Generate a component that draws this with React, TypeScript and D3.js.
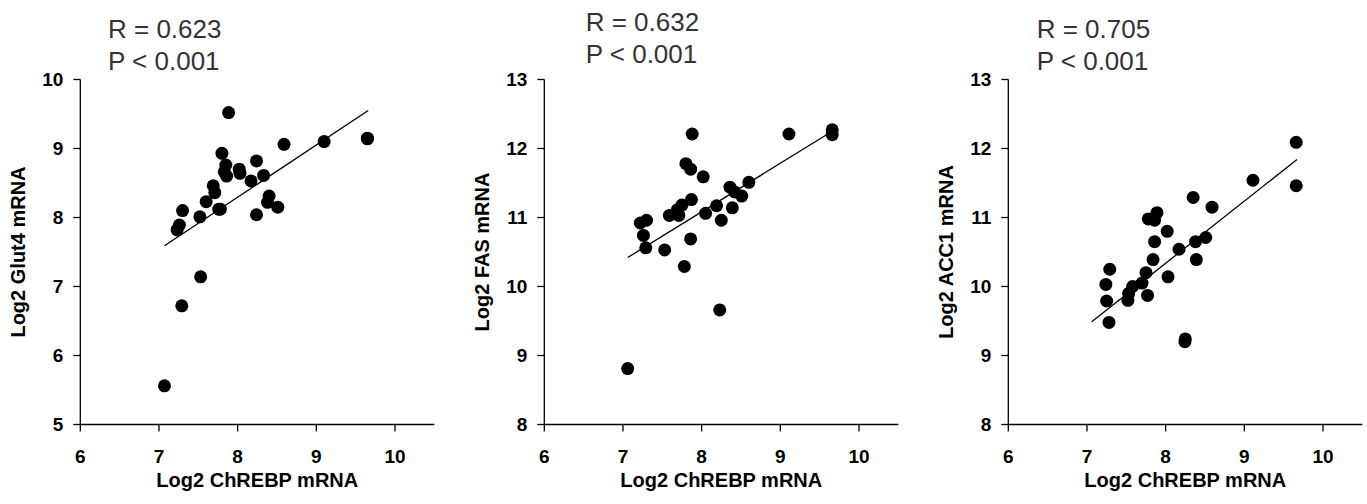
import * as d3 from "d3";

// x values (Log2 ChREBP mRNA) and y values per panel
const glutX = [7.07, 7.29, 7.53, 7.23, 7.26, 7.3, 7.52, 7.6, 7.69, 7.71, 7.76, 7.78, 7.8, 7.85, 7.83, 7.86, 7.885, 8.02, 8.03, 8.17, 8.24, 8.24, 8.33, 8.4, 8.38, 8.51, 8.59, 9.1, 9.65, 9.65];
const glutY = [5.56, 6.72, 7.14, 7.82, 7.89, 8.1, 8.01, 8.23, 8.46, 8.36, 8.12, 8.12, 8.93, 8.76, 8.66, 8.6, 9.52, 8.7, 8.64, 8.53, 8.82, 8.04, 8.61, 8.31, 8.22, 8.15, 9.06, 9.1, 9.15, 9.14];

const fasX = [7.06, 8.23, 7.78, 7.53, 7.29, 7.86, 7.26, 7.22, 7.3, 7.59, 7.71, 7.69, 7.75, 8.05, 8.25, 8.19, 7.87, 8.39, 8.36, 8.42, 8.51, 8.6, 8.02, 7.8, 7.86, 7.88, 9.11, 9.66, 9.66];
const fasY = [8.81, 9.66, 10.29, 10.53, 10.56, 10.69, 10.74, 10.92, 10.96, 11.03, 11.03, 11.11, 11.18, 11.06, 10.96, 11.17, 11.26, 11.14, 11.44, 11.37, 11.31, 11.51, 11.59, 11.78, 11.7, 12.21, 12.21, 12.27, 12.2];

const accX = [8.245, 8.25, 7.28, 7.25, 7.52, 7.77, 7.53, 7.58, 7.7, 7.24, 8.03, 7.75, 7.29, 7.84, 8.39, 8.17, 7.86, 8.38, 8.51, 8.02, 7.78, 7.86, 7.89, 8.59, 8.35, 9.11, 9.66, 9.66];
const accY = [9.2, 9.24, 9.48, 9.79, 9.8, 9.87, 9.9, 10.0, 10.05, 10.03, 10.14, 10.2, 10.25, 10.39, 10.39, 10.54, 10.65, 10.65, 10.71, 10.8, 10.98, 10.96, 11.07, 11.15, 11.29, 11.54, 11.46, 12.09];

// regression line end points [x0, x1], [y0, y1]
const glutFitX = [7.07, 9.66];
const glutFitY = [7.59, 9.55];
const fasFitX = [7.06, 9.66];
const fasFitY = [10.42, 12.25];
const accFitX = [7.06, 9.67];
const accFitY = [9.49, 11.84];

const xTicks = [6, 7, 8, 9, 10];
const glutTicks = [5, 6, 7, 8, 9, 10];
const lipoTicks = [8, 9, 10, 11, 12, 13];

const xTitle = "Log2 ChREBP mRNA";
const yTitles = ["Log2 Glut4 mRNA", "Log2 FAS mRNA", "Log2 ACC1 mRNA"];
const rTexts = ["R = 0.623", "R = 0.632", "R = 0.705"];
const pText = "P < 0.001";

const W = 1367;
const H = 504;
const font = "'Liberation Sans', Arial, sans-serif";

const panels = [
  { xs: glutX, ys: glutY, fx: glutFitX, fy: glutFitY, yDomain: [5, 10], yTicks: glutTicks, left: 80.3, statX: 108, statY: 38 },
  { xs: fasX, ys: fasY, fx: fasFitX, fy: fasFitY, yDomain: [8, 13], yTicks: lipoTicks, left: 544.3, statX: 585.7, statY: 31 },
  { xs: accX, ys: accY, fx: accFitX, fy: accFitY, yDomain: [8, 13], yTicks: lipoTicks, left: 1008.3, statX: 1036.7, statY: 38 },
];

const plotW = 354;
const top = 79.5;
const bottom = 424.5;

function Panel({ p, i }: { p: any; i: number }) {
  const x = d3.scaleLinear().domain([6, 10.5]).range([p.left, p.left + plotW]);
  const y = d3.scaleLinear().domain(p.yDomain).range([bottom, top]);
  const line = d3
    .line<number>()
    .x((d) => x(d))
    .y((_, k) => y(p.fy[k]));
  return (
    <g>
      <text x={p.statX} y={p.statY} fontFamily={font} fontSize={26} fill="#333">
        {rTexts[i]}
      </text>
      <text x={p.statX} y={p.statY + 32} fontFamily={font} fontSize={26} fill="#333">
        {pText}
      </text>
      {/* axes */}
      <line x1={x(6)} x2={x(6)} y1={top} y2={bottom} stroke="#000" strokeWidth={1.3} />
      <line x1={x(6)} x2={x(10.5)} y1={bottom} y2={bottom} stroke="#000" strokeWidth={1.3} />
      {p.yTicks.map((t: number) => (
        <g key={"y" + t}>
          <line x1={x(6) - 7} x2={x(6)} y1={y(t)} y2={y(t)} stroke="#000" strokeWidth={1.3} />
          <text x={x(6) - 17} y={y(t) + 6.5} textAnchor="end" fontFamily={font} fontWeight="bold" fontSize={19} fill="#000">
            {t}
          </text>
        </g>
      ))}
      {xTicks.map((t) => (
        <g key={"x" + t}>
          <line x1={x(t)} x2={x(t)} y1={bottom} y2={bottom + 7} stroke="#000" strokeWidth={1.3} />
          <text x={x(t)} y={bottom + 38} textAnchor="middle" fontFamily={font} fontWeight="bold" fontSize={19} fill="#000">
            {t}
          </text>
        </g>
      ))}
      <text x={p.left + plotW / 2} y={487} textAnchor="middle" fontFamily={font} fontWeight="bold" fontSize={20} fill="#000">
        {xTitle}
      </text>
      <text
        transform={`translate(${p.left - 55},${(top + bottom) / 2}) rotate(-90)`}
        textAnchor="middle"
        fontFamily={font}
        fontWeight="bold"
        fontSize={20}
        fill="#000"
      >
        {yTitles[i]}
      </text>
      <path d={line(p.fx) || ""} fill="none" stroke="#000" strokeWidth={1.3} />
      {p.xs.map((v: number, k: number) => (
        <circle key={k} cx={x(v)} cy={y(p.ys[k])} r={6.5} fill="#000" />
      ))}
    </g>
  );
}

export default function App() {
  return (
    <svg width={W} height={H} style={{ position: "absolute", left: 0, top: 0, background: "#fff" }}>
      <rect width={W} height={H} fill="#fff" />
      {panels.map((p, i) => (
        <Panel key={i} p={p} i={i} />
      ))}
    </svg>
  );
}
